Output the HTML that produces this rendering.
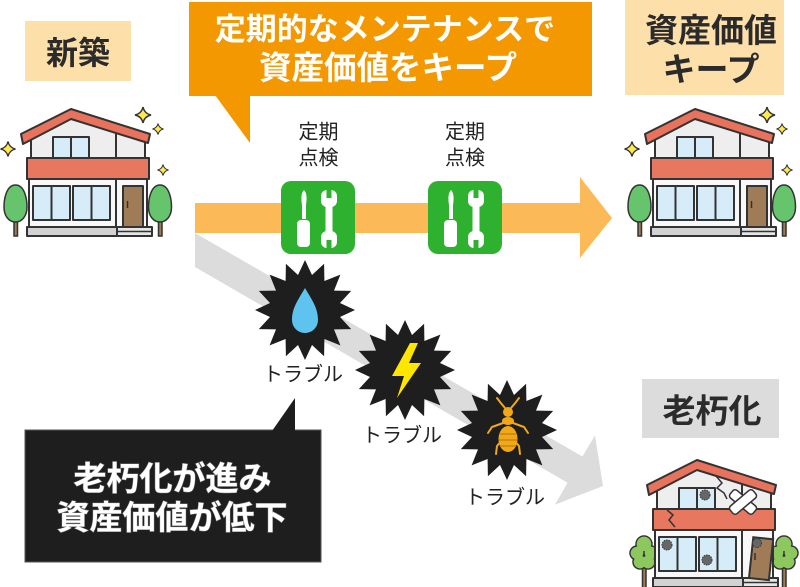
<!DOCTYPE html>
<html><head><meta charset="utf-8"><style>
html,body{margin:0;padding:0;background:#fff;}
svg{display:block;}
text{font-family:"Liberation Sans","Noto Sans CJK JP",sans-serif;}
</style></head><body>
<svg width="800" height="587" viewBox="0 0 800 587" xmlns="http://www.w3.org/2000/svg">
<defs>
<polygon id="star" fill="#1e1e1e" points="0,-50 7,-35 19.1,-46.2 19.4,-29 35.4,-35.4 29,-19.4 46.2,-19.1 35,-7 50,0 35,7 46.2,19.1 29,19.4 35.4,35.4 19.4,29 19.1,46.2 7,35 0,50 -7,35 -19.1,46.2 -19.4,29 -35.4,35.4 -29,19.4 -46.2,19.1 -35,7 -50,0 -35,-7 -46.2,-19.1 -29,-19.4 -35.4,-35.4 -19.4,-29 -19.1,-46.2 -7,-35"/>
<g id="tool">
<rect x="0" y="0" width="74" height="73" rx="10" fill="#2db12f"/>
<path d="M23,9 C26,12 26,18 25,24 L25,38 L21,38 L21,24 C20,18 20,12 23,9Z" fill="#fff"/>
<rect x="16" y="39" width="13" height="27" rx="4" fill="#fff"/>
<rect x="44.5" y="20" width="7" height="36" fill="#fff"/>
<rect x="40" y="9" width="16" height="17" rx="6" fill="#fff"/>
<rect x="45.5" y="6" width="5" height="11" fill="#2db12f"/>
<rect x="40" y="50" width="16" height="17" rx="6" fill="#fff"/>
<rect x="45.5" y="59" width="5" height="11" fill="#2db12f"/>
</g>
<g id="hb" stroke="#333" stroke-width="2" stroke-linejoin="round">
<polygon points="31,158 31,139 71,118 145,141 145,158" fill="#eeeeee"/>
<line x1="116" y1="133" x2="116" y2="158"/>
<rect x="53" y="137" width="36" height="21" fill="#d6ecf8"/>
<line x1="71" y1="137" x2="71" y2="158"/>
<polygon points="21,134 71,109 150,134 148,143 71,119 23,144" fill="#e8725c"/>
<rect x="27" y="158" width="122" height="21" fill="#e8775f"/>
<rect x="29" y="179" width="118" height="48" fill="#f8f8f8"/>
<rect x="33" y="186" width="37" height="34" fill="#d6ecf8"/>
<rect x="73" y="186" width="37" height="34" fill="#d6ecf8"/>
<line x1="51.5" y1="186" x2="51.5" y2="220"/>
<line x1="91.5" y1="186" x2="91.5" y2="220"/>
<line x1="116" y1="179" x2="116" y2="227"/>
<rect x="123" y="186" width="20" height="41" fill="#a07b58"/>
<line x1="127.5" y1="201" x2="127.5" y2="208" stroke-width="1.5"/>
<rect x="27" y="227" width="90" height="9" fill="#d2d2d2"/>
<rect x="117" y="227" width="35" height="9" fill="#e6e6e6"/>
<line x1="117" y1="231.5" x2="152" y2="231.5" stroke-width="1.5"/>
</g>
<path id="sp" d="M0,-1 Q0.18,-0.18 1,0 Q0.18,0.18 0,1 Q-0.18,0.18 -1,0 Q-0.18,-0.18 0,-1Z"/>
<g id="newhouse">
<g stroke="#333" stroke-width="1.5">
<rect x="14" y="218" width="3.5" height="18" fill="#a07b58"/>
<path d="M15.5,185 C25,185 27,200 27,207 C27,216 22,222 15.5,222 C9,222 4,216 4,207 C4,200 6,185 15.5,185 Z" fill="#66c56c"/>
<rect x="158.5" y="218" width="3.5" height="18" fill="#a07b58"/>
<path d="M160,185 C169.5,185 171.5,200 171.5,207 C171.5,216 166.5,222 160,222 C153.5,222 148.5,216 148.5,207 C148.5,200 150.5,185 160,185 Z" fill="#66c56c"/>
</g>
<use href="#hb"/>
<g fill="#ffe94d" stroke="#333" stroke-width="0.18">
<use href="#sp" transform="translate(143,115) scale(8)"/>
<use href="#sp" transform="translate(158,129) scale(5.5)"/>
<use href="#sp" transform="translate(8,149) scale(7.5)"/>
<use href="#sp" transform="translate(163,170) scale(5.5)"/>
</g>
</g>
</defs>

<!-- labels top -->
<rect x="25" y="21" width="106" height="60" fill="#fddfa9"/>
<text x="78" y="64" font-size="32" font-weight="bold" fill="#2b2b2b" text-anchor="middle">新築</text>

<rect x="625" y="0" width="159" height="95" fill="#fddfa9"/>
<text x="711" y="42" font-size="33" font-weight="bold" fill="#2b2b2b" text-anchor="middle">資産価値</text>
<text x="711" y="81" font-size="33" font-weight="bold" fill="#2b2b2b" text-anchor="middle">キープ</text>

<!-- orange callout -->
<rect x="189" y="2" width="403" height="94" fill="#f39800"/>
<polygon points="215,95 250,95 250,143" fill="#f39800"/>
<text x="385" y="40" font-size="31" font-weight="bold" fill="#fff" text-anchor="middle">定期的なメンテナンスで</text>
<text x="388" y="79" font-size="32.5" font-weight="bold" fill="#fff" text-anchor="middle">資産価値をキープ</text>

<!-- houses -->
<use href="#newhouse"/>
<use href="#newhouse" transform="translate(624,0)"/>

<!-- gray arrow -->
<polygon points="195,233 582.4,456.5 595,435.4 603,486 555,504.6 567.6,482.7 195,267" fill="#dcdcdc"/>
<!-- orange arrow -->
<polygon points="195,203 580,203 580,177 612,218 580,258 580,233 195,233" fill="#fbba57"/>

<!-- tools -->
<use href="#tool" transform="translate(281,181)"/>
<use href="#tool" transform="translate(428,181)"/>
<text x="318.5" y="138.5" font-size="20" fill="#222" text-anchor="middle">定期</text>
<text x="318.5" y="164.5" font-size="20" fill="#222" text-anchor="middle">点検</text>
<text x="465" y="138.5" font-size="20" fill="#222" text-anchor="middle">定期</text>
<text x="465" y="164.5" font-size="20" fill="#222" text-anchor="middle">点検</text>

<!-- stars -->
<use href="#star" transform="translate(305,310)"/>
<use href="#star" transform="translate(405,370)"/>
<use href="#star" transform="translate(507,430)"/>
<path d="M305,288 C298,300 292,308 292,320 A13,13 0 0 0 318,320 C318,308 312,300 305,288 Z" fill="#5ec3ee"/>
<polygon points="410,343 392,376 404,376 397,398 421,363 409,363 418,343" fill="#ffe500"/>
<g stroke="#f0a818" stroke-width="2" fill="none" stroke-linecap="round">
<polyline points="503,423 492,427 488,433"/>
<polyline points="513,423 524,427 528,433"/>
<polyline points="502,440 497,446 496,454"/>
<polyline points="514,440 519,446 520,454"/>
<polyline points="505,408 500,402 497,398"/>
<polyline points="511,408 516,402 519,398"/>
</g>
<g fill="#f0a818">
<ellipse cx="508" cy="412" rx="5" ry="5"/>
<ellipse cx="508" cy="421" rx="6" ry="4"/>
<ellipse cx="508" cy="439" rx="9.5" ry="13"/>
</g>
<g stroke="#c98414" stroke-width="1.5">
<line x1="500" y1="434" x2="516" y2="434"/>
<line x1="499" y1="440" x2="517" y2="440"/>
<line x1="500" y1="446" x2="516" y2="446"/>
</g>

<text x="303" y="381" font-size="20" fill="#222" text-anchor="middle">トラブル</text>
<text x="402" y="442" font-size="20" fill="#222" text-anchor="middle">トラブル</text>
<text x="505" y="504" font-size="20" fill="#222" text-anchor="middle">トラブル</text>

<!-- black callout -->
<rect x="25" y="430" width="296" height="132" fill="#1e1e1e" stroke="#555" stroke-width="1"/>
<polygon points="272,431 295,398 295,431" fill="#1e1e1e"/>
<text x="172.5" y="490" font-size="33" font-weight="bold" fill="#fff" stroke="#777" stroke-width="1" paint-order="stroke" text-anchor="middle">老朽化が進み</text>
<text x="172" y="529" font-size="33" font-weight="bold" fill="#fff" stroke="#777" stroke-width="1" paint-order="stroke" text-anchor="middle">資産価値が低下</text>

<!-- old house label -->
<rect x="642" y="379" width="137" height="59" fill="#dcdcdc"/>
<text x="712" y="422.5" font-size="33" font-weight="bold" fill="#2b2b2b" text-anchor="middle">老朽化</text>

<!-- old house -->
<g stroke="#333" stroke-width="1.5">
<rect x="642.5" y="566" width="3.5" height="22" fill="#a07b58"/>
<rect x="782.5" y="566" width="3.5" height="22" fill="#a07b58"/>
<g fill="#8dc85f">
<circle cx="644" cy="544" r="8"/><circle cx="637" cy="553" r="7"/><circle cx="651" cy="553" r="7"/><circle cx="640" cy="562" r="7"/><circle cx="648" cy="562" r="7"/>
<circle cx="784" cy="544" r="8"/><circle cx="777" cy="553" r="7"/><circle cx="791" cy="553" r="7"/><circle cx="780" cy="562" r="7"/><circle cx="788" cy="562" r="7"/>
</g>
</g>
<g fill="#8dc85f">
<circle cx="644" cy="544" r="7.2"/><circle cx="637" cy="553" r="6.2"/><circle cx="651" cy="553" r="6.2"/><circle cx="640" cy="562" r="6.2"/><circle cx="648" cy="562" r="6.2"/>
<circle cx="784" cy="544" r="7.2"/><circle cx="777" cy="553" r="6.2"/><circle cx="791" cy="553" r="6.2"/><circle cx="780" cy="562" r="6.2"/><circle cx="788" cy="562" r="6.2"/>
</g>
<use href="#hb" transform="translate(626,351)"/>
<rect x="748" y="536" width="22" height="42" fill="#f8f8f8"/>
<rect x="749" y="537" width="20" height="41" fill="#a07b58" stroke="#333" stroke-width="2" transform="rotate(6 749 578)"/>
<line x1="755" y1="553" x2="755" y2="560" stroke="#333" stroke-width="1.5"/>
<g fill="none" stroke="#333" stroke-width="1.5">
<polyline points="716,476 722,483 717,488 724,493 727,499"/>
<polyline points="667,510 673,515 669,520 675,527"/>
</g>
<g fill="#666" stroke="#333" stroke-width="1" stroke-dasharray="1.5 1">
<circle cx="705" cy="495" r="5"/>
<circle cx="667" cy="545" r="5"/>
<circle cx="707" cy="560" r="5"/>
<circle cx="757" cy="543" r="4.5"/>
</g>
<g fill="#fff" stroke="#333" stroke-width="1.5">
<rect x="728" y="497" width="30" height="10" rx="3" transform="rotate(40 743 502)"/>
<rect x="728" y="497" width="30" height="10" rx="3" transform="rotate(-40 743 502)"/>
</g>
</svg>
</body></html>
